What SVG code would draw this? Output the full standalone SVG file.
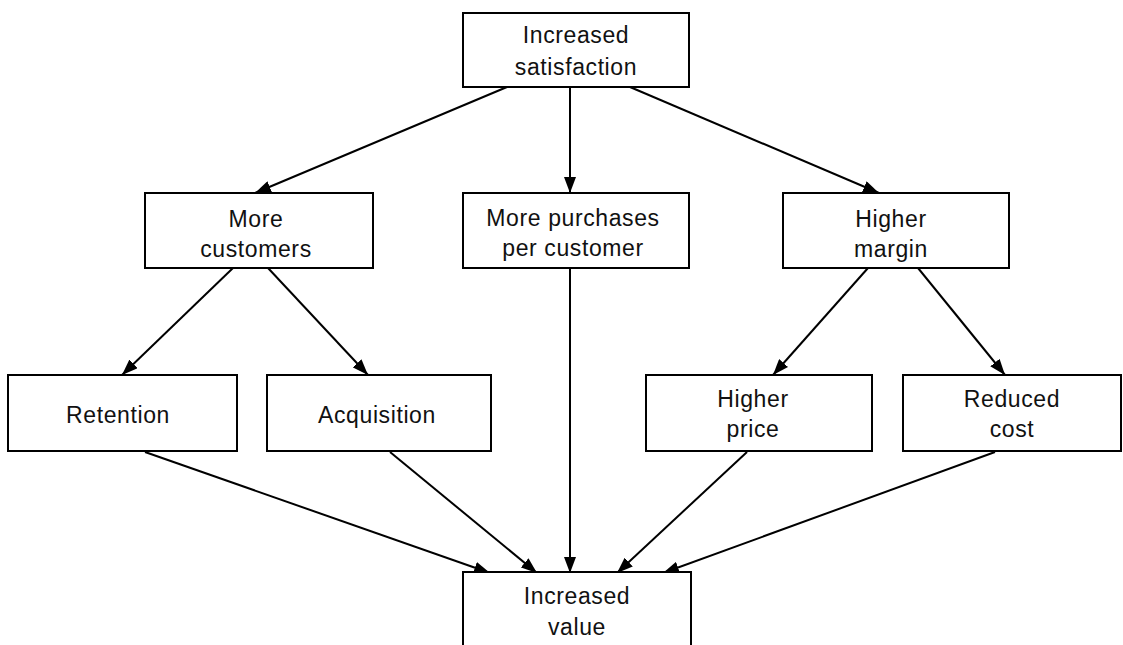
<svg xmlns="http://www.w3.org/2000/svg" width="1123" height="645" viewBox="0 0 1123 645">
<style>
.box{fill:#fff;stroke:#000;stroke-width:2}
.t{font-family:"Liberation Sans",Arial,sans-serif;font-size:23px;fill:#111;text-anchor:middle;letter-spacing:0.6px}
.c{stroke:#000;stroke-width:2;fill:none;marker-end:url(#ah)}
</style>
<defs>
<marker id="ah" viewBox="0 0 16 12" refX="16" refY="6" markerWidth="16" markerHeight="12" markerUnits="userSpaceOnUse" orient="auto">
<path d="M0,0 L16,6 L0,12 Z" fill="#000"/>
</marker>
</defs>
<rect width="1123" height="645" fill="#fff"/>
<g id="connectors">
<line class="c" x1="507" y1="87" x2="255" y2="193"/>
<line class="c" x1="570" y1="87" x2="570" y2="193"/>
<line class="c" x1="630" y1="87" x2="879" y2="193"/>
<line class="c" x1="233" y1="268" x2="122" y2="375"/>
<line class="c" x1="268" y1="268" x2="368" y2="375"/>
<line class="c" x1="868" y1="268" x2="773" y2="375"/>
<line class="c" x1="918" y1="268" x2="1005" y2="375"/>
<line class="c" x1="145" y1="452" x2="490" y2="573"/>
<line class="c" x1="390" y1="452" x2="537" y2="573"/>
<line class="c" x1="570" y1="268" x2="570" y2="573"/>
<line class="c" x1="747" y1="452" x2="617" y2="573"/>
<line class="c" x1="995" y1="452" x2="663" y2="573"/>
</g>
<g id="n-satisfaction">
<rect class="box" x="463" y="13" width="226" height="74"/>
<text class="t" x="576" y="43">Increased</text>
<text class="t" x="576" y="75">satisfaction</text>
</g>
<g id="n-customers">
<rect class="box" x="145" y="193" width="228" height="75"/>
<text class="t" x="256" y="227">More</text>
<text class="t" x="256" y="257">customers</text>
</g>
<g id="n-purchases">
<rect class="box" x="463" y="193" width="226" height="75"/>
<text class="t" x="573" y="226">More purchases</text>
<text class="t" x="573" y="256">per customer</text>
</g>
<g id="n-margin">
<rect class="box" x="783" y="193" width="226" height="75"/>
<text class="t" x="891" y="227">Higher</text>
<text class="t" x="891" y="257">margin</text>
</g>
<g id="n-retention">
<rect class="box" x="8" y="375" width="229" height="76"/>
<text class="t" x="118" y="423">Retention</text>
</g>
<g id="n-acquisition">
<rect class="box" x="267" y="375" width="224" height="76"/>
<text class="t" x="377" y="423">Acquisition</text>
</g>
<g id="n-price">
<rect class="box" x="646" y="375" width="226" height="76"/>
<text class="t" x="753" y="407">Higher</text>
<text class="t" x="753" y="437">price</text>
</g>
<g id="n-cost">
<rect class="box" x="903" y="375" width="218" height="76"/>
<text class="t" x="1012" y="407">Reduced</text>
<text class="t" x="1012" y="437">cost</text>
</g>
<g id="n-value">
<rect class="box" x="463" y="572" width="228" height="80"/>
<text class="t" x="577" y="604">Increased</text>
<text class="t" x="577" y="635">value</text>
</g>
</svg>
